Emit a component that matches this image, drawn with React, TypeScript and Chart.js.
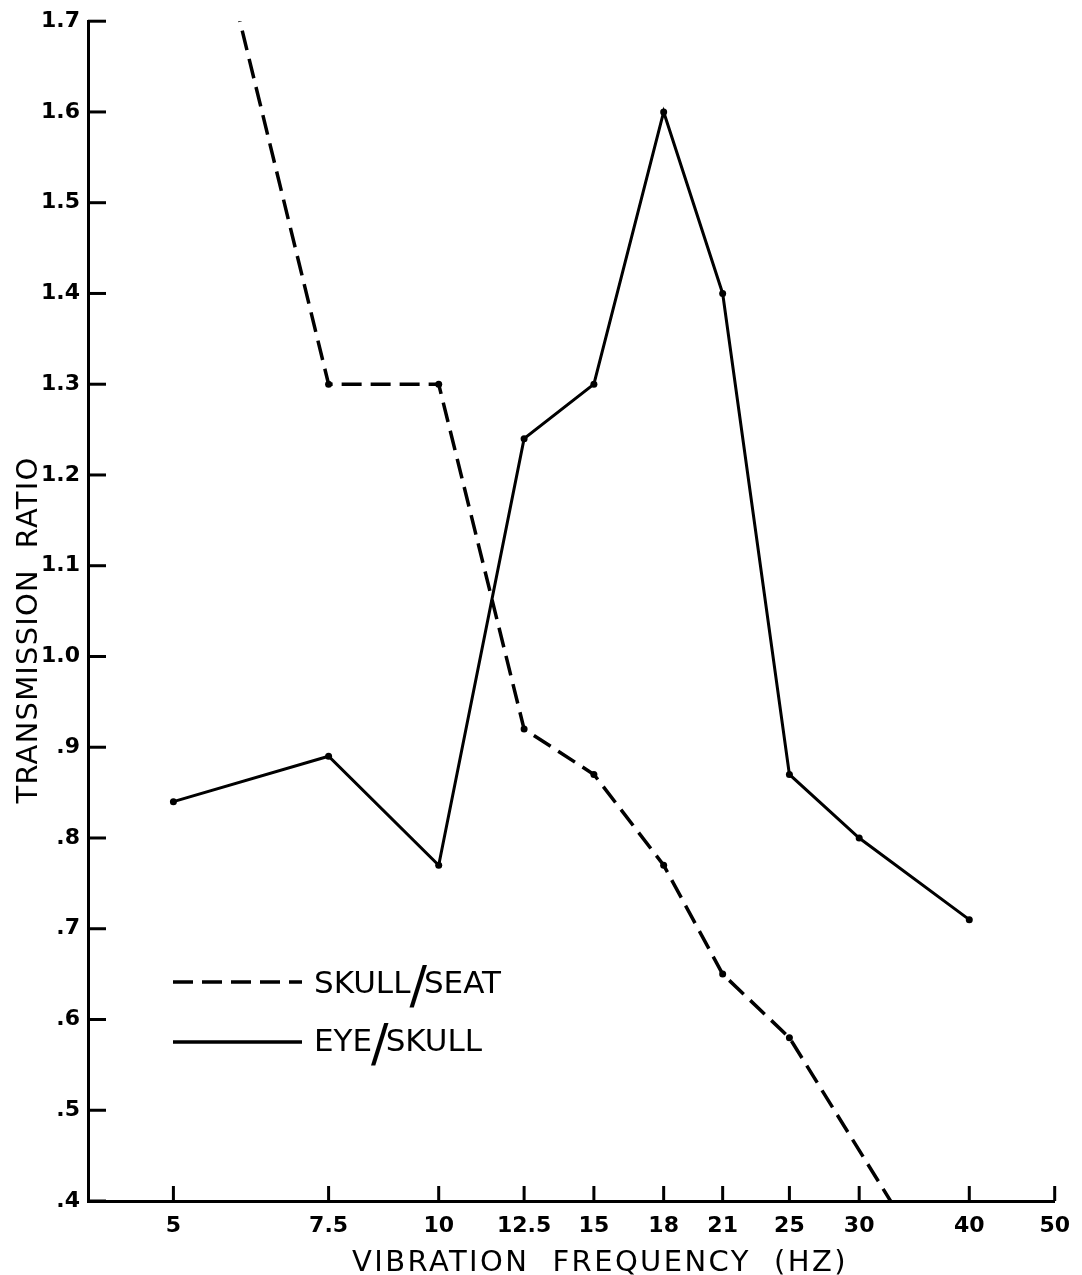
import React, { useEffect, useRef } from 'react';
import { Chart, registerables } from 'chart.js';

Chart.register(...registerables);

// ---- data ----
const frequencies = [5, 7.5, 10, 12.5, 15, 18, 21, 25, 30, 40];
const eyeSkull = [0.84, 0.89, 0.77, 1.24, 1.3, 1.6, 1.4, 0.87, 0.8, 0.71];
const skullSeatFreqs = [5, 7.5, 10, 12.5, 15, 18, 21, 25, 40];
const skullSeat = [2.0, 1.3, 1.3, 0.92, 0.87, 0.77, 0.65, 0.58, 0.26];

const xTickValues = [5, 7.5, 10, 12.5, 15, 18, 21, 25, 30, 40, 50];
const xTickLabels = ['5', '7.5', '10', '12.5', '15', '18', '21', '25', '30', '40', '50'];
const yTickValues = [0.4, 0.5, 0.6, 0.7, 0.8, 0.9, 1.0, 1.1, 1.2, 1.3, 1.4, 1.5, 1.6, 1.7];
const yTickLabels = ['.4', '.5', '.6', '.7', '.8', '.9', '1.0', '1.1', '1.2', '1.3', '1.4', '1.5', '1.6', '1.7'];

const seriesNames = ['SKULL/SEAT', 'EYE/SKULL'];
const xTitle = 'VIBRATION  FREQUENCY  (HZ)';
const yTitle = 'TRANSMISSION  RATIO';

const X_MIN = 4;
const X_MAX = 50;
const Y_MIN = 0.4;
const Y_MAX = 1.7;

const INK = '#000';
const DASH = [20, 9];

const decorPlugin = {
  id: 'decor',
  afterDraw(chart: any) {
    const { ctx, chartArea } = chart;
    const xs = chart.scales.x;
    const ys = chart.scales.y;
    ctx.save();
    ctx.strokeStyle = INK;
    ctx.fillStyle = INK;
    ctx.lineWidth = 3;
    ctx.lineCap = 'butt';
    // inner tick marks
    const yBase = ys.getPixelForValue(Y_MIN);
    xTickValues.forEach((v) => {
      const px = xs.getPixelForValue(v);
      ctx.beginPath();
      ctx.moveTo(px, yBase);
      ctx.lineTo(px, yBase - 15);
      ctx.stroke();
    });
    const xBase = chartArea.left;
    yTickValues.forEach((v) => {
      const py = ys.getPixelForValue(v);
      ctx.beginPath();
      ctx.moveTo(xBase, py);
      ctx.lineTo(xBase + 18, py);
      ctx.stroke();
    });

    // legend
    const rows = [
      { y: 982, base: 993, dash: DASH, name: seriesNames[0] },
      { y: 1042, base: 1051, dash: [], name: seriesNames[1] },
    ];
    rows.forEach((r) => {
      ctx.save();
      ctx.lineWidth = 3.5;
      ctx.setLineDash(r.dash);
      ctx.beginPath();
      ctx.moveTo(173, r.y);
      ctx.lineTo(302, r.y);
      ctx.stroke();
      ctx.restore();
      const parts = r.name.split('/');
      let tx = 314;
      ctx.textBaseline = 'alphabetic';
      ctx.textAlign = 'left';
      ctx.font = '31px "DejaVu Sans"';
      ctx.fillText(parts[0], tx, r.base);
      tx += ctx.measureText(parts[0]).width - 1;
      ctx.font = '52px "DejaVu Sans"';
      ctx.fillText('/', tx, r.base + 10);
      tx += ctx.measureText('/').width - 3;
      ctx.font = '31px "DejaVu Sans"';
      ctx.fillText(parts[1], tx, r.base);
    });

    // axis titles
    ctx.textAlign = 'center';
    ctx.textBaseline = 'alphabetic';
    ctx.font = '29px "DejaVu Sans"';
    (ctx as any).letterSpacing = '2.4px';
    ctx.fillText(xTitle, 600, 1271);
    ctx.save();
    ctx.translate(37, 630);
    ctx.rotate(-Math.PI / 2);
    ctx.textBaseline = 'alphabetic';
    ctx.font = '29px "DejaVu Sans"';
    (ctx as any).letterSpacing = '1.2px';
    ctx.fillText(yTitle, 0, 0);
    ctx.restore();
    ctx.restore();
  },
};

export default function App() {
  const canvasRef = useRef<HTMLCanvasElement | null>(null);

  useEffect(() => {
    if (!canvasRef.current) return;
    const chart = new Chart(canvasRef.current, {
      type: 'line',
      data: {
        datasets: [
          {
            label: seriesNames[0],
            data: skullSeatFreqs.map((f, i) => ({ x: f, y: skullSeat[i] })),
            borderColor: INK,
            backgroundColor: INK,
            borderWidth: 3.5,
            borderDash: DASH,
            pointRadius: 3.5,
            pointBorderWidth: 0,
            pointBackgroundColor: INK,
            tension: 0,
            fill: false,
          },
          {
            label: seriesNames[1],
            data: frequencies.map((f, i) => ({ x: f, y: eyeSkull[i] })),
            borderColor: INK,
            backgroundColor: INK,
            borderWidth: 3,
            pointRadius: 3.5,
            pointBorderWidth: 0,
            pointBackgroundColor: INK,
            tension: 0,
            fill: false,
          },
        ],
      },
      options: {
        animation: false,
        responsive: false,
        devicePixelRatio: 1,
        layout: { padding: { top: 18, right: 25, left: 0, bottom: 0 } },
        plugins: {
          legend: { display: false },
          tooltip: { enabled: false },
        },
        scales: {
          x: {
            type: 'logarithmic',
            min: X_MIN,
            max: X_MAX,
            afterBuildTicks: (scale: any) => {
              scale.ticks = xTickValues.map((v) => ({ value: v }));
            },
            afterFit: (scale: any) => {
              scale.height = 74;
            },
            grid: { display: false, drawTicks: false },
            border: { display: true, color: INK, width: 3 },
            ticks: {
              autoSkip: false,
              maxRotation: 0,
              minRotation: 0,
              padding: 12,
              color: INK,
              font: { family: '"DejaVu Sans"', size: 22, weight: 'bold' },
              callback: (_v: any, i: number) => xTickLabels[i],
            },
          },
          y: {
            type: 'linear',
            min: Y_MIN,
            max: Y_MAX,
            afterBuildTicks: (scale: any) => {
              scale.ticks = yTickValues.map((v) => ({ value: v }));
            },
            afterFit: (scale: any) => {
              scale.width = 88;
            },
            grid: { display: false, drawTicks: false },
            border: { display: true, color: INK, width: 3 },
            ticks: {
              autoSkip: false,
              padding: 8,
              color: INK,
              font: { family: '"DejaVu Sans"', size: 22, weight: 'bold' },
              callback: (_v: any, i: number) => yTickLabels[i],
            },
          },
        },
      },
      plugins: [decorPlugin],
    } as any);
    return () => chart.destroy();
  }, []);

  return (
    <div style={{ position: 'absolute', left: 0, top: 0, width: 1082, height: 1275, background: '#fff' }}>
      <canvas ref={canvasRef} width={1082} height={1275} style={{ width: 1082, height: 1275, display: 'block' }} />
    </div>
  );
}
